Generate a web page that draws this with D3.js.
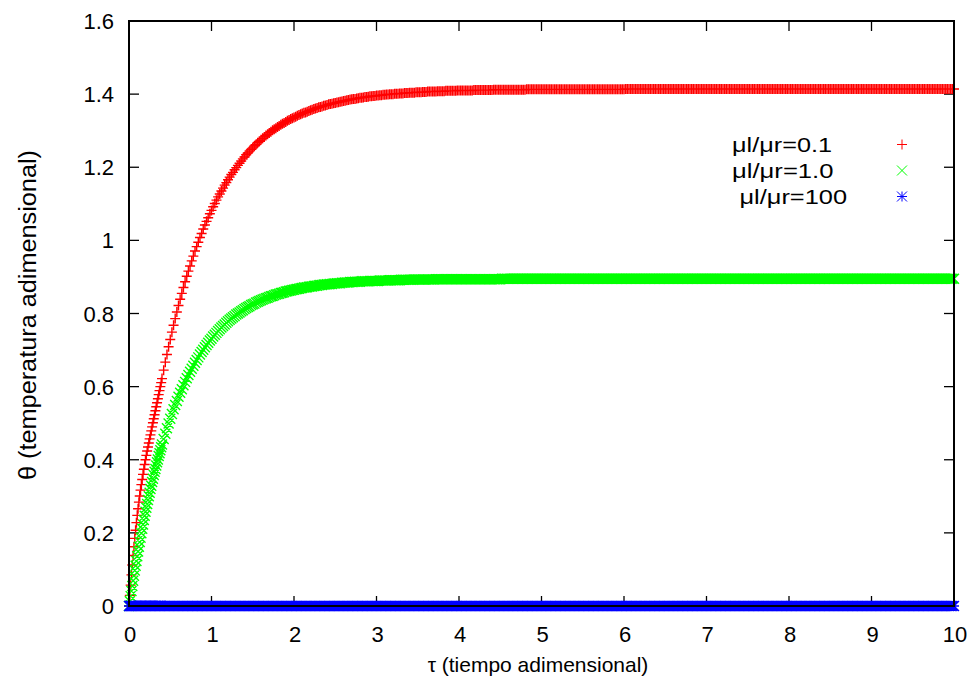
<!DOCTYPE html>
<html>
<head>
<meta charset="utf-8">
<script src="https://cdn.jsdelivr.net/npm/d3@7"></script>
<style>
  html, body { margin: 0; padding: 0; background: #fff; }
  svg { display: block; }
  text { font-family: "Liberation Sans", Arial, Helvetica, sans-serif; fill: #000; }
</style>
</head>
<body>
<svg id="chart" width="973" height="688"></svg>
<script>
// ---- data ----
const tau = [
  0,0.01,0.02,0.03,0.04,0.05,0.06,0.07,0.08,0.09,0.1,0.11,0.12,0.13,0.14,0.15,0.16,0.17,0.18,0.19,
  0.2,0.21,0.22,0.23,0.24,0.25,0.26,0.27,0.28,0.29,0.3,0.31,0.32,0.33,0.34,0.35,0.36,0.37,0.38,0.39,0.4,
  0.42,0.44,0.46,0.48,0.5,0.52,0.54,0.56,0.58,0.6,
  0.62,0.64,0.66,0.68,0.7,0.72,0.74,0.76,0.78,0.8,
  0.82,0.84,0.86,0.88,0.9,0.92,0.94,0.96,0.98,1,
  1.02,1.04,1.06,1.08,1.1,1.12,1.14,1.16,1.18,1.2,
  1.22,1.24,1.26,1.28,1.3,1.32,1.34,1.36,1.38,1.4,
  1.42,1.44,1.46,1.48,1.5,1.52,1.54,1.56,1.58,1.6,
  1.62,1.64,1.66,1.68,1.7,1.72,1.74,1.76,1.78,1.8,
  1.82,1.84,1.86,1.88,1.9,1.92,1.94,1.96,1.98,2,
  2.02,2.04,2.06,2.08,2.1,2.12,2.14,2.16,2.18,2.2,
  2.22,2.24,2.26,2.28,2.3,2.32,2.34,2.36,2.38,2.4,
  2.42,2.44,2.46,2.48,2.5,2.52,2.54,2.56,2.58,2.6,
  2.62,2.64,2.66,2.68,2.7,2.72,2.74,2.76,2.78,2.8,
  2.82,2.84,2.86,2.88,2.9,2.92,2.94,2.96,2.98,3,
  3.02,3.04,3.06,3.08,3.1,3.12,3.14,3.16,3.18,3.2,
  3.22,3.24,3.26,3.28,3.3,3.32,3.34,3.36,3.38,3.4,
  3.42,3.44,3.46,3.48,3.5,3.52,3.54,3.56,3.58,3.6,
  3.62,3.64,3.66,3.68,3.7,3.72,3.74,3.76,3.78,3.8,
  3.82,3.84,3.86,3.88,3.9,3.92,3.94,3.96,3.98,4,
  4.02,4.04,4.06,4.08,4.1,4.12,4.14,4.16,4.18,4.2,
  4.22,4.24,4.26,4.28,4.3,4.32,4.34,4.36,4.38,4.4,
  4.42,4.44,4.46,4.48,4.5,4.52,4.54,4.56,4.58,4.6,
  4.62,4.64,4.66,4.68,4.7,4.72,4.74,4.76,4.78,4.8,
  4.82,4.84,4.86,4.88,4.9,4.92,4.94,4.96,4.98,5,
  5.02,5.04,5.06,5.08,5.1,5.12,5.14,5.16,5.18,5.2,
  5.22,5.24,5.26,5.28,5.3,5.32,5.34,5.36,5.38,5.4,
  5.42,5.44,5.46,5.48,5.5,5.52,5.54,5.56,5.58,5.6,
  5.62,5.64,5.66,5.68,5.7,5.72,5.74,5.76,5.78,5.8,
  5.82,5.84,5.86,5.88,5.9,5.92,5.94,5.96,5.98,6,
  6.02,6.04,6.06,6.08,6.1,6.12,6.14,6.16,6.18,6.2,
  6.22,6.24,6.26,6.28,6.3,6.32,6.34,6.36,6.38,6.4,
  6.42,6.44,6.46,6.48,6.5,6.52,6.54,6.56,6.58,6.6,
  6.62,6.64,6.66,6.68,6.7,6.72,6.74,6.76,6.78,6.8,
  6.82,6.84,6.86,6.88,6.9,6.92,6.94,6.96,6.98,7,
  7.02,7.04,7.06,7.08,7.1,7.12,7.14,7.16,7.18,7.2,
  7.22,7.24,7.26,7.28,7.3,7.32,7.34,7.36,7.38,7.4,
  7.42,7.44,7.46,7.48,7.5,7.52,7.54,7.56,7.58,7.6,
  7.62,7.64,7.66,7.68,7.7,7.72,7.74,7.76,7.78,7.8,
  7.82,7.84,7.86,7.88,7.9,7.92,7.94,7.96,7.98,8,
  8.02,8.04,8.06,8.08,8.1,8.12,8.14,8.16,8.18,8.2,
  8.22,8.24,8.26,8.28,8.3,8.32,8.34,8.36,8.38,8.4,
  8.42,8.44,8.46,8.48,8.5,8.52,8.54,8.56,8.58,8.6,
  8.62,8.64,8.66,8.68,8.7,8.72,8.74,8.76,8.78,8.8,
  8.82,8.84,8.86,8.88,8.9,8.92,8.94,8.96,8.98,9,
  9.02,9.04,9.06,9.08,9.1,9.12,9.14,9.16,9.18,9.2,
  9.22,9.24,9.26,9.28,9.3,9.32,9.34,9.36,9.38,9.4,
  9.42,9.44,9.46,9.48,9.5,9.52,9.54,9.56,9.58,9.6,
  9.62,9.64,9.66,9.68,9.7,9.72,9.74,9.76,9.78,9.8,
  9.82,9.84,9.86,9.88,9.9,9.92,9.94,9.96,9.98,10
];

// mu_l/mu_r = 0.1
const theta01 = [
  0,0.029,0.057,0.085,0.112,0.138,0.162,0.185,0.207,0.228,0.248,0.266,0.284,0.301,0.317,0.332,0.346,0.36,0.374,0.387,
  0.4,0.412,0.424,0.435,0.446,0.457,0.468,0.479,0.49,0.501,0.512,0.523,0.534,0.545,0.556,0.567,0.578,0.589,0.6,0.611,0.622,
  0.645,0.667,0.688,0.709,0.729,0.749,0.768,0.786,0.804,0.822,
  0.839,0.855,0.871,0.887,0.902,0.916,0.93,0.944,0.957,0.971,
  0.983,0.995,1.008,1.019,1.031,1.042,1.052,1.062,1.073,1.082,
  1.092,1.101,1.11,1.119,1.127,1.135,1.143,1.151,1.158,1.166,
  1.173,1.18,1.186,1.193,1.199,1.205,1.211,1.217,1.223,1.228,
  1.234,1.239,1.244,1.249,1.253,1.258,1.262,1.267,1.271,1.275,
  1.279,1.283,1.287,1.29,1.294,1.297,1.301,1.304,1.307,1.31,
  1.313,1.316,1.319,1.321,1.324,1.327,1.329,1.332,1.334,1.336,
  1.338,1.341,1.343,1.345,1.347,1.349,1.35,1.352,1.354,1.356,
  1.357,1.359,1.361,1.362,1.364,1.365,1.366,1.368,1.369,1.37,
  1.372,1.373,1.374,1.375,1.376,1.377,1.378,1.379,1.38,1.381,
  1.382,1.383,1.384,1.385,1.386,1.387,1.387,1.388,1.389,1.39,
  1.39,1.391,1.392,1.392,1.393,1.394,1.394,1.395,1.395,1.396,
  1.396,1.397,1.397,1.398,1.398,1.399,1.399,1.4,1.4,1.4,
  1.401,1.401,1.401,1.402,1.402,1.402,1.403,1.403,1.403,1.404,
  1.404,1.404,1.404,1.405,1.405,1.405,1.405,1.406,1.406,1.406,
  1.407,1.407,1.407,1.407,1.407,1.407,1.408,1.408,1.408,1.408,
  1.408,1.409,1.409,1.409,1.409,1.409,1.409,1.409,1.41,1.41,
  1.41,1.41,1.41,1.41,1.41,1.41,1.41,1.41,1.411,1.411,
  1.411,1.411,1.411,1.411,1.411,1.411,1.411,1.411,1.411,1.411,
  1.412,1.412,1.412,1.412,1.412,1.412,1.412,1.412,1.412,1.412,
  1.412,1.412,1.412,1.412,1.412,1.412,1.412,1.412,1.412,1.412,
  1.413,1.413,1.413,1.413,1.413,1.413,1.413,1.413,1.413,1.413,
  1.413,1.413,1.413,1.413,1.413,1.413,1.413,1.413,1.413,1.413,
  1.413,1.413,1.413,1.413,1.413,1.413,1.413,1.413,1.413,1.413,
  1.413,1.413,1.413,1.413,1.413,1.413,1.413,1.413,1.413,1.413,
  1.413,1.413,1.413,1.413,1.413,1.413,1.413,1.413,1.413,1.413,
  1.413,1.413,1.413,1.413,1.413,1.413,1.413,1.413,1.413,1.413,
  1.414,1.414,1.414,1.414,1.414,1.414,1.414,1.414,1.414,1.414,
  1.414,1.414,1.414,1.414,1.414,1.414,1.414,1.414,1.414,1.414,
  1.414,1.414,1.414,1.414,1.414,1.414,1.414,1.414,1.414,1.414,
  1.414,1.414,1.414,1.414,1.414,1.414,1.414,1.414,1.414,1.414,
  1.414,1.414,1.414,1.414,1.414,1.414,1.414,1.414,1.414,1.414,
  1.414,1.414,1.414,1.414,1.414,1.414,1.414,1.414,1.414,1.414,
  1.414,1.414,1.414,1.414,1.414,1.414,1.414,1.414,1.414,1.414,
  1.414,1.414,1.414,1.414,1.414,1.414,1.414,1.414,1.414,1.414,
  1.414,1.414,1.414,1.414,1.414,1.414,1.414,1.414,1.414,1.414,
  1.414,1.414,1.414,1.414,1.414,1.414,1.414,1.414,1.414,1.414,
  1.414,1.414,1.414,1.414,1.414,1.414,1.414,1.414,1.414,1.414,
  1.414,1.414,1.414,1.414,1.414,1.414,1.414,1.414,1.414,1.414,
  1.414,1.414,1.414,1.414,1.414,1.414,1.414,1.414,1.414,1.414,
  1.414,1.414,1.414,1.414,1.414,1.414,1.414,1.414,1.414,1.414,
  1.414,1.414,1.414,1.414,1.414,1.414,1.414,1.414,1.414,1.414,
  1.414,1.414,1.414,1.414,1.414,1.414,1.414,1.414,1.414,1.414,
  1.414,1.414,1.414,1.414,1.414,1.414,1.414,1.414,1.414,1.414,
  1.414,1.414,1.414,1.414,1.414,1.414,1.414,1.414,1.414,1.414,
  1.414,1.414,1.414,1.414,1.414,1.414,1.414,1.414,1.414,1.414,
  1.414,1.414,1.414,1.414,1.414,1.414,1.414,1.414,1.414,1.414
];

// mu_l/mu_r = 1.0
const theta10 = [
  0,0.013,0.027,0.041,0.055,0.069,0.083,0.097,0.11,0.123,0.136,0.149,0.162,0.175,0.187,0.199,0.211,0.223,0.235,0.247,
  0.258,0.269,0.279,0.29,0.3,0.31,0.32,0.329,0.339,0.348,0.358,0.367,0.375,0.384,0.393,0.401,0.41,0.418,0.426,0.434,0.442,
  0.457,0.471,0.486,0.499,0.512,0.525,0.538,0.55,0.561,0.572,
  0.583,0.593,0.604,0.613,0.623,0.632,0.641,0.649,0.657,0.665,
  0.673,0.68,0.688,0.695,0.701,0.708,0.714,0.72,0.726,0.731,
  0.737,0.742,0.747,0.752,0.757,0.762,0.766,0.77,0.775,0.779,
  0.783,0.786,0.79,0.793,0.797,0.8,0.803,0.806,0.809,0.812,
  0.815,0.818,0.82,0.823,0.825,0.827,0.83,0.832,0.834,0.836,
  0.838,0.84,0.842,0.843,0.845,0.847,0.848,0.85,0.852,0.853,
  0.854,0.856,0.857,0.858,0.86,0.861,0.862,0.863,0.864,0.865,
  0.866,0.867,0.868,0.869,0.87,0.871,0.871,0.872,0.873,0.874,
  0.874,0.875,0.876,0.876,0.877,0.878,0.878,0.879,0.879,0.88,
  0.88,0.881,0.881,0.882,0.882,0.883,0.883,0.883,0.884,0.884,
  0.885,0.885,0.885,0.886,0.886,0.886,0.887,0.887,0.887,0.887,
  0.888,0.888,0.888,0.888,0.888,0.889,0.889,0.889,0.889,0.889,
  0.889,0.89,0.89,0.89,0.89,0.89,0.89,0.891,0.891,0.891,
  0.891,0.891,0.891,0.891,0.892,0.892,0.892,0.892,0.892,0.892,
  0.892,0.892,0.893,0.893,0.893,0.893,0.893,0.893,0.893,0.893,
  0.893,0.893,0.893,0.893,0.893,0.894,0.894,0.894,0.894,0.894,
  0.894,0.894,0.894,0.894,0.894,0.894,0.894,0.894,0.894,0.894,
  0.894,0.894,0.894,0.894,0.894,0.894,0.894,0.894,0.894,0.894,
  0.894,0.894,0.894,0.894,0.894,0.894,0.894,0.894,0.894,0.894,
  0.894,0.894,0.894,0.894,0.894,0.895,0.895,0.895,0.895,0.895,
  0.895,0.895,0.895,0.895,0.895,0.895,0.895,0.895,0.895,0.895,
  0.895,0.895,0.895,0.895,0.895,0.895,0.895,0.895,0.895,0.895,
  0.895,0.895,0.895,0.895,0.895,0.895,0.895,0.895,0.895,0.895,
  0.895,0.895,0.895,0.895,0.895,0.895,0.895,0.895,0.895,0.895,
  0.895,0.895,0.895,0.895,0.895,0.895,0.895,0.895,0.895,0.895,
  0.895,0.895,0.895,0.895,0.895,0.895,0.895,0.895,0.895,0.895,
  0.895,0.895,0.895,0.895,0.895,0.895,0.895,0.895,0.895,0.895,
  0.895,0.895,0.895,0.895,0.895,0.895,0.895,0.895,0.895,0.895,
  0.895,0.895,0.895,0.895,0.895,0.895,0.895,0.895,0.895,0.895,
  0.895,0.895,0.895,0.895,0.895,0.895,0.895,0.895,0.895,0.895,
  0.895,0.895,0.895,0.895,0.895,0.895,0.895,0.895,0.895,0.895,
  0.895,0.895,0.895,0.895,0.895,0.895,0.895,0.895,0.895,0.895,
  0.895,0.895,0.895,0.895,0.895,0.895,0.895,0.895,0.895,0.895,
  0.895,0.895,0.895,0.895,0.895,0.895,0.895,0.895,0.895,0.895,
  0.895,0.895,0.895,0.895,0.895,0.895,0.895,0.895,0.895,0.895,
  0.895,0.895,0.895,0.895,0.895,0.895,0.895,0.895,0.895,0.895,
  0.895,0.895,0.895,0.895,0.895,0.895,0.895,0.895,0.895,0.895,
  0.895,0.895,0.895,0.895,0.895,0.895,0.895,0.895,0.895,0.895,
  0.895,0.895,0.895,0.895,0.895,0.895,0.895,0.895,0.895,0.895,
  0.895,0.895,0.895,0.895,0.895,0.895,0.895,0.895,0.895,0.895,
  0.895,0.895,0.895,0.895,0.895,0.895,0.895,0.895,0.895,0.895,
  0.895,0.895,0.895,0.895,0.895,0.895,0.895,0.895,0.895,0.895,
  0.895,0.895,0.895,0.895,0.895,0.895,0.895,0.895,0.895,0.895,
  0.895,0.895,0.895,0.895,0.895,0.895,0.895,0.895,0.895,0.895,
  0.895,0.895,0.895,0.895,0.895,0.895,0.895,0.895,0.895,0.895,
  0.895,0.895,0.895,0.895,0.895,0.895,0.895,0.895,0.895,0.895,
  0.895,0.895,0.895,0.895,0.895,0.895,0.895,0.895,0.895,0.895
];

// mu_l/mu_r = 100 (flat at zero)
const theta100 = [
  0,0,0,0,0,0,0,0,0,0,0,0,0,0,0,0,0,0,0,0,
  0,0,0,0,0,0,0,0,0,0,0,0,0,0,0,0,0,0,0,0,0,
  0,0,0,0,0,0,0,0,0,0, 0,0,0,0,0,0,0,0,0,0, 0,0,0,0,0,0,0,0,0,0,
  0,0,0,0,0,0,0,0,0,0, 0,0,0,0,0,0,0,0,0,0, 0,0,0,0,0,0,0,0,0,0,
  0,0,0,0,0,0,0,0,0,0, 0,0,0,0,0,0,0,0,0,0, 0,0,0,0,0,0,0,0,0,0,
  0,0,0,0,0,0,0,0,0,0, 0,0,0,0,0,0,0,0,0,0, 0,0,0,0,0,0,0,0,0,0,
  0,0,0,0,0,0,0,0,0,0, 0,0,0,0,0,0,0,0,0,0, 0,0,0,0,0,0,0,0,0,0,
  0,0,0,0,0,0,0,0,0,0, 0,0,0,0,0,0,0,0,0,0, 0,0,0,0,0,0,0,0,0,0,
  0,0,0,0,0,0,0,0,0,0, 0,0,0,0,0,0,0,0,0,0, 0,0,0,0,0,0,0,0,0,0,
  0,0,0,0,0,0,0,0,0,0, 0,0,0,0,0,0,0,0,0,0, 0,0,0,0,0,0,0,0,0,0,
  0,0,0,0,0,0,0,0,0,0, 0,0,0,0,0,0,0,0,0,0, 0,0,0,0,0,0,0,0,0,0,
  0,0,0,0,0,0,0,0,0,0, 0,0,0,0,0,0,0,0,0,0, 0,0,0,0,0,0,0,0,0,0,
  0,0,0,0,0,0,0,0,0,0, 0,0,0,0,0,0,0,0,0,0, 0,0,0,0,0,0,0,0,0,0,
  0,0,0,0,0,0,0,0,0,0, 0,0,0,0,0,0,0,0,0,0, 0,0,0,0,0,0,0,0,0,0,
  0,0,0,0,0,0,0,0,0,0, 0,0,0,0,0,0,0,0,0,0, 0,0,0,0,0,0,0,0,0,0,
  0,0,0,0,0,0,0,0,0,0, 0,0,0,0,0,0,0,0,0,0, 0,0,0,0,0,0,0,0,0,0,
  0,0,0,0,0,0,0,0,0,0, 0,0,0,0,0,0,0,0,0,0, 0,0,0,0,0,0,0,0,0,0,
  0,0,0,0,0,0,0,0,0,0, 0,0,0,0,0,0,0,0,0,0, 0,0,0,0,0,0,0,0,0,0
];

const seriesNames = ["\u03bcl/\u03bcr=0.1", "\u03bcl/\u03bcr=1.0", "\u03bcl/\u03bcr=100"];
const xTicks = [0,1,2,3,4,5,6,7,8,9,10];
const yTicks = [0,0.2,0.4,0.6,0.8,1,1.2,1.4,1.6];
const yTickLabels = ["0","0.2","0.4","0.6","0.8","1","1.2","1.4","1.6"];

// ---- drawing ----
const svg = d3.select("#chart");
const x = d3.scaleLinear().domain([0, 10]).range([129, 954]);
const y = d3.scaleLinear().domain([0, 1.6]).range([606, 21]);

const series = [
  { name: seriesNames[0], values: theta01, color: "#ff0000", marker: "plus" },
  { name: seriesNames[1], values: theta10, color: "#00ff00", marker: "cross" },
  { name: seriesNames[2], values: theta100, color: "#0000ff", marker: "star" }
];

function markerPath(px, py, type, s) {
  const plus = `M${px - s},${py}H${px + s}M${px},${py - s}V${py + s}`;
  const cross = `M${px - s},${py - s}L${px + s},${py + s}M${px - s},${py + s}L${px + s},${py - s}`;
  if (type === "plus") return plus;
  if (type === "cross") return cross;
  return plus + cross;
}

const TICK = 10;
const gTicks = svg.append("g").attr("stroke", "#000").attr("stroke-width", 1.3);
xTicks.forEach(t => {
  gTicks.append("line").attr("x1", x(t)).attr("x2", x(t)).attr("y1", y(0)).attr("y2", y(0) - TICK);
  gTicks.append("line").attr("x1", x(t)).attr("x2", x(t)).attr("y1", y(1.6)).attr("y2", y(1.6) + TICK);
});
yTicks.forEach(t => {
  gTicks.append("line").attr("x1", x(0)).attr("x2", x(0) + TICK).attr("y1", y(t)).attr("y2", y(t));
  gTicks.append("line").attr("x1", x(10)).attr("x2", x(10) - TICK).attr("y1", y(t)).attr("y2", y(t));
});

// tick labels
svg.append("g").selectAll("text").data(xTicks).join("text")
  .attr("x", d => x(d) + 1).attr("y", 642)
  .attr("text-anchor", "middle").attr("font-size", 22)
  .text(d => String(d));
svg.append("g").selectAll("text").data(yTicks).join("text")
  .attr("x", 114).attr("y", d => y(d) + 8)
  .attr("text-anchor", "end").attr("font-size", 22)
  .text((d, i) => yTickLabels[i]);

// series markers
series.forEach(s => {
  let d = "";
  s.values.forEach((v, i) => {
    if (tau[i] === undefined) return;
    d += markerPath(x(tau[i]), y(v), s.marker, 5);
  });
  svg.append("path").attr("d", d).attr("fill", "none")
    .attr("stroke", s.color).attr("stroke-width", 1.4);
});

// border on top
svg.append("rect")
  .attr("x", x(0)).attr("y", y(1.6))
  .attr("width", x(10) - x(0)).attr("height", y(0) - y(1.6))
  .attr("fill", "none").attr("stroke", "#000").attr("stroke-width", 2);

// legend
const legendRows = [
  { x: 732, y: 144.5, len: 100 },
  { x: 732, y: 170.5, len: 101.5 },
  { x: 739.5, y: 196.5, len: 107.5 }
];
series.forEach((s, i) => {
  const r = legendRows[i];
  svg.append("text")
    .attr("x", r.x).attr("y", r.y + 7.5)
    .attr("font-size", 21)
    .attr("textLength", r.len).attr("lengthAdjust", "spacingAndGlyphs")
    .text(s.name);
  svg.append("path")
    .attr("d", markerPath(902, r.y, s.marker, 5))
    .attr("fill", "none").attr("stroke", s.color).attr("stroke-width", 1);
});

// axis titles
svg.append("text")
  .attr("x", 538).attr("y", 672)
  .attr("text-anchor", "middle").attr("font-size", 21)
  .text("\u03c4 (tiempo adimensional)");
svg.append("text")
  .attr("transform", "translate(36,315) rotate(-90)")
  .attr("text-anchor", "middle").attr("font-size", 23)
  .attr("textLength", 330).attr("lengthAdjust", "spacingAndGlyphs")
  .text("\u03b8 (temperatura adimensional)");
</script>
</body>
</html>
